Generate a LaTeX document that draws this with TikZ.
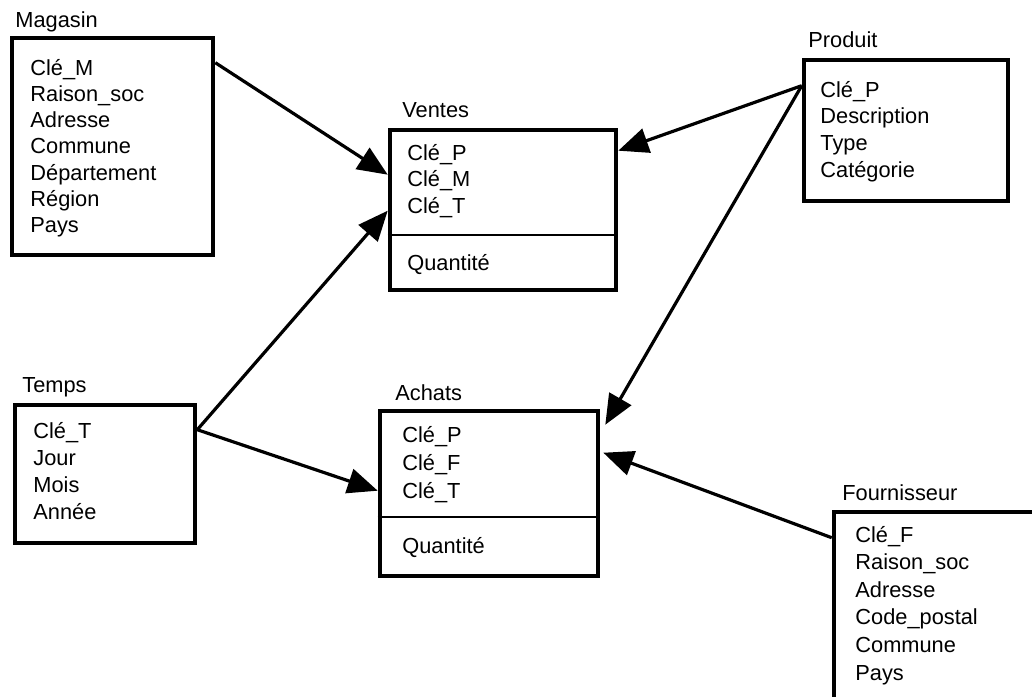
\documentclass[tikz,border=0pt]{standalone}
\usepackage{fontspec}
\setmainfont{Liberation Sans}
\usetikzlibrary{arrows.meta}
\tikzset{
  table/.style={draw=black, line width=2.3pt, inner sep=0pt},
  field/.style={anchor=base west, inner sep=0pt, font=\fontsize{10.9}{13}\selectfont},
  tname/.style={anchor=base west, inner sep=0pt, font=\fontsize{10.9}{13}\selectfont},
  divider/.style={line width=1.2pt},
  link/.style={line width=1.6pt, -{Triangle[length=15pt,width=12.5pt]}}
}

\begin{document}
\begin{tikzpicture}[x=0.5pt,y=-0.5pt]
\clip (0,0) rectangle (1032,696);
% tables
\node[table, minimum width=100.5pt, minimum height=108.5pt] (magasin) at (112.5,146.5) {};
\node[table, minimum width=113pt, minimum height=80pt] (ventes) at (503,210) {};
\node[table, minimum width=102pt, minimum height=70.5pt] (produit) at (906,130.5) {};
\node[table, minimum width=90pt, minimum height=69pt] (temps) at (105,474) {};
\node[table, minimum width=109pt, minimum height=82.5pt] (achats) at (489,493.5) {};
\node[table, minimum width=119pt, minimum height=110pt] (fournisseur) at (953,622) {};
% names
\node[tname] (tmagasin) at (15,27) {Magasin};
\node[tname] (tventes) at (402,117) {Ventes};
\node[tname] (tproduit) at (808,47) {Produit};
\node[tname] (ttemps) at (22,392) {Temps};
\node[tname] (tachats) at (395,400) {Achats};
\node[tname] (tfournisseur) at (842,500) {Fournisseur};
% fields
\foreach \f [count=\i] in {Clé\_M,Raison\_soc,Adresse,Commune,Département,Région,Pays}
  \node[field] (mag\i) at (30,{75+26.3*(\i-1)}) {\f};
\foreach \f [count=\i] in {Clé\_P,Clé\_M,Clé\_T}
  \node[field] (ven\i) at (407,{160+26.5*(\i-1)}) {\f};
\node[field] (venq) at (407,270) {Quantité};
\foreach \f [count=\i] in {Clé\_P,Description,Type,Catégorie}
  \node[field] (pro\i) at (820,{97+26.7*(\i-1)}) {\f};
\foreach \f [count=\i] in {Clé\_T,Jour,Mois,Année}
  \node[field] (tem\i) at (33,{438+27.3*(\i-1)}) {\f};
\foreach \f [count=\i] in {Clé\_P,Clé\_F,Clé\_T}
  \node[field] (ach\i) at (402,{442+28*(\i-1)}) {\f};
\node[field] (achq) at (402,553) {Quantité};
\foreach \f [count=\i] in {Clé\_F,Raison\_soc,Adresse,Code\_postal,Commune,Pays}
  \node[field] (fou\i) at (855,{542+27.6*(\i-1)}) {\f};
% dividers
\coordinate (vdiv) at (0,235);
\coordinate (adiv) at (0,517);
\draw[divider] (ventes.west |- vdiv) -- (ventes.east |- vdiv);
\draw[divider] (achats.west |- adiv) -- (achats.east |- adiv);
% links
\draw[link] ([yshift=-13.5pt]magasin.north east) -- ([yshift=-23.5pt]ventes.north west);
\draw[link] ([yshift=-13.5pt]temps.north east) -- ([yshift=-41.5pt]ventes.north west);
\draw[link] ([yshift=-13.5pt]temps.north east) -- ([yshift=-41pt]achats.north west);
\draw[link] ([yshift=-14pt]produit.north west) -- ([yshift=-11.5pt]ventes.north east);
\draw[link] ([yshift=-14pt]produit.north west) -- ([xshift=2.5pt,yshift=-8pt]achats.north east);
\draw[link] ([yshift=-14pt]fournisseur.north west) -- ([xshift=1.5pt,yshift=-22pt]achats.north east);
\end{tikzpicture}
\end{document}
